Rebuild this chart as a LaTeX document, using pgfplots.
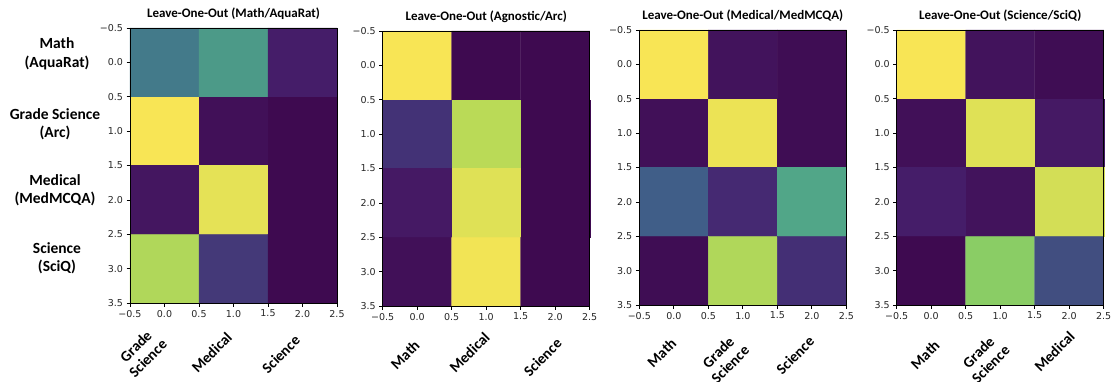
\documentclass[border=0pt]{standalone}
\usepackage{pgfplots}
\pgfplotsset{compat=1.18}
\usepackage{fontspec}
\setmainfont{Carlito}
\newfontfamily\dejavu{DejaVu Sans}

\pgfplotsset{
  colormap={loo}{
    rgb255(0pt)=(62,10,80)
    rgb255(5pt)=(69,25,100)
    rgb255(10pt)=(70,35,112)
    rgb255(15pt)=(67,50,118)
    rgb255(20pt)=(68,62,122)
    rgb255(25pt)=(65,78,128)
    rgb255(30pt)=(64,94,136)
    rgb255(40pt)=(67,120,138)
    rgb255(50pt)=(72,142,137)
    rgb255(60pt)=(81,166,136)
    rgb255(70pt)=(105,190,118)
    rgb255(80pt)=(138,205,101)
    rgb255(90pt)=(186,218,87)
    rgb255(100pt)=(248,229,85)
  },
  hm/.style={
    scale only axis, width=207pt, height=275pt, anchor=south west,
    xmin=-0.5, xmax=2.5, ymin=-0.5, ymax=3.5, y dir=reverse,
    xtick={-0.5,0,0.5,1,1.5,2,2.5},
    xticklabels={−0.5,0.0,0.5,1.0,1.5,2.0,2.5},
    ytick={-0.5,0,0.5,1,1.5,2,2.5,3,3.5},
    yticklabels={−0.5,0.0,0.5,1.0,1.5,2.0,2.5,3.0,3.5},
    tick align=outside, xtick pos=bottom, ytick pos=left,
    major tick length=3.5pt,
    tick style={black, line width=0.7pt},
    axis line style={line width=0.7pt},
    ticklabel style={font=\dejavu\fontsize{9.5}{10}\selectfont, text=black!85},
    colormap name=loo, point meta min=0, point meta max=1,
    title style={font=\bfseries\fontsize{13}{13.5}\selectfont, at={(0.5,1)}, anchor=center, yshift=8pt},
    axis on top, clip=false,
  }
}
% category label below a column: #1 = horizontal adjustment, #2 = yshift, #3 = column, #4 = text
\newcommand{\cl}[4]{\node[xshift=#1, yshift=#2, rotate=45, anchor=north east, align=center,
  inner sep=2pt, font=\bfseries\fontsize{15}{17}\selectfont] at (axis cs:#3,3.5) {#4};}

\begin{document}
\begin{tikzpicture}
\path[use as bounding box] (0pt,0pt) rectangle (1115pt,381pt);

% row labels
\begin{scope}[every node/.style={align=center, font=\bfseries\fontsize{15.5}{18.5}\selectfont}]
\node at (57pt,327pt) {Math\\(AquaRat)};
\node at (55pt,257pt) {Grade Science\\(Arc)};
\node at (55pt,191pt) {Medical\\(MedMCQA)};
\node at (57pt,123pt) {Science\\(SciQ)};
\end{scope}

\begin{axis}[hm, at={(130pt,78pt)}, title={Leave-One-Out (Math/AquaRat)}]
\addplot[matrix plot*, mesh/cols=3, point meta=explicit] coordinates {
(0,0) [0.41] (1,0) [0.55] (2,0) [0.07]

(0,1) [1.00] (1,1) [0.02] (2,1) [0.00]

(0,2) [0.04] (1,2) [0.97] (2,2) [0.00]

(0,3) [0.88] (1,3) [0.18] (2,3) [0.00]
};
\cl{-16pt}{-20pt}{0}{Grade\\Science}
\cl{-8pt}{-25pt}{1}{Medical}
\cl{-9pt}{-28pt}{2}{Science}
\end{axis}

\begin{axis}[hm, at={(382.7pt,75pt)}, title={Leave-One-Out (Agnostic/Arc)}]
\addplot[matrix plot*, mesh/cols=3, point meta=explicit] coordinates {
(0,0) [1.00] (1,0) [0.00] (2,0) [0.00]

(0,1) [0.15] (1,1) [0.90] (2,1) [0.00]

(0,2) [0.05] (1,2) [0.96] (2,2) [0.00]

(0,3) [0.02] (1,3) [0.99] (2,3) [0.00]
};
\cl{-4pt}{-30pt}{0}{Math}
\cl{-3pt}{-22pt}{1}{Medical}
\cl{0pt}{-28pt}{2}{Science}
\end{axis}

\begin{axis}[hm, at={(639.3pt,76pt)}, title={Leave-One-Out (Medical/MedMCQA)}]
\addplot[matrix plot*, mesh/cols=3, point meta=explicit] coordinates {
(0,0) [1.00] (1,0) [0.03] (2,0) [0.01]

(0,1) [0.02] (1,1) [0.98] (2,1) [0.01]

(0,2) [0.30] (1,2) [0.12] (2,2) [0.60]

(0,3) [0.01] (1,3) [0.88] (2,3) [0.14]
};
\cl{-4pt}{-29pt}{0}{Math}
\cl{-12pt}{-24pt}{1}{Grade\\Science}
\cl{-4pt}{-27pt}{2}{Science}
\end{axis}

\begin{axis}[hm, at={(896.7pt,76pt)}, title={Leave-One-Out (Science/SciQ)}]
\addplot[matrix plot*, mesh/cols=3, point meta=explicit] coordinates {
(0,0) [1.00] (1,0) [0.03] (2,0) [0.01]

(0,1) [0.02] (1,1) [0.96] (2,1) [0.05]

(0,2) [0.07] (1,2) [0.03] (2,2) [0.94]

(0,3) [0.00] (1,3) [0.80] (2,3) [0.25]
};
\cl{2pt}{-31pt}{0}{Math}
\cl{-9pt}{-24pt}{1}{Grade\\Science}
\cl{-1pt}{-22pt}{2}{Medical}
\end{axis}
\end{tikzpicture}
\end{document}
